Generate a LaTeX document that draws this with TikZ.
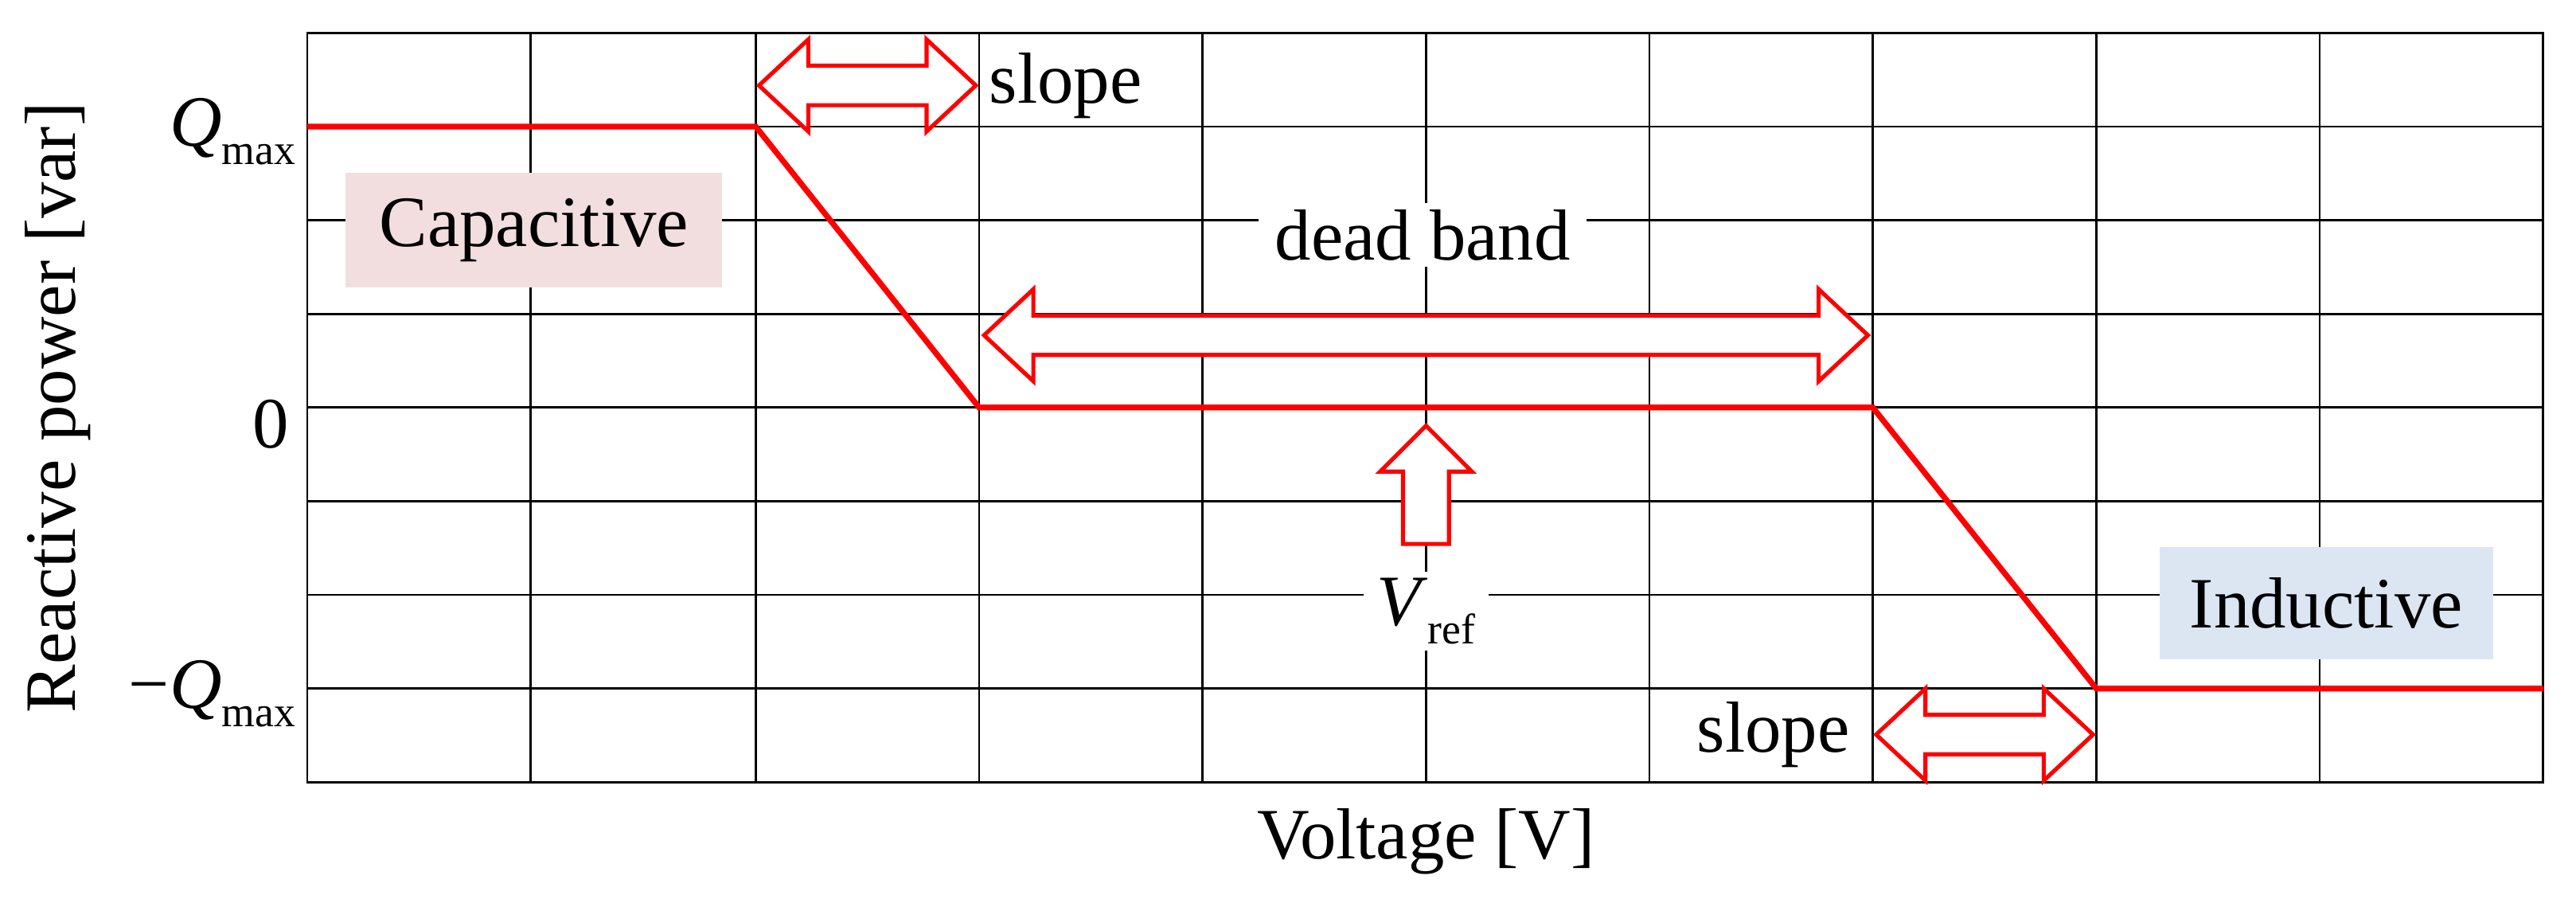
\documentclass[tikz,border=0pt]{standalone}
\usepackage{fontspec}
\setmainfont{Liberation Serif}
\definecolor{capc}{RGB}{242,222,222}
\definecolor{indc}{RGB}{220,230,242}
\newcommand{\sub}[1]{\raisebox{-0.25em}{\fontsize{26}{28}\selectfont #1}}
\begin{document}
\begin{tikzpicture}[x=1pt,y=-1pt,
  lbl/.style={font=\fontsize{44}{48}\selectfont, inner sep=4pt},
  blk/.style={draw=red, line width=2.5pt, fill=white, line join=miter},
  curve/.style={draw=red, line width=3.5pt},
  grid/.style={draw=black, line width=1.3pt}]
\useasboundingbox (0,0) rectangle (1568,547);
\fill[white] (0,0) rectangle (1568,547);
% grid
\foreach \x in {323,460,596,732,868,1004,1140,1276,1412} \draw[grid] (\x,20) -- (\x,476);
\foreach \y in {77,134,191,248,305,362,419} \draw[grid] (187,\y) -- (1548,\y);
\draw[grid] (187,20) rectangle (1548,476);
% curve
\coordinate (p0) at (187,77); \coordinate (p1) at (460,77);
\coordinate (p2) at (596,248); \coordinate (p3) at (1140,248);
\coordinate (p4) at (1276,419); \coordinate (p5) at (1548,419);
\draw[curve] (p0) -- (p1) -- (p2) -- (p3) -- (p4) -- (p5);
% horizontal double arrows
\newcommand{\dblarrow}[3]{%
  \draw[blk] (#1,#3) -- (#1+30,#3-28) -- (#1+30,#3-12) -- (#2-30,#3-12) -- (#2-30,#3-28)
   -- (#2,#3) -- (#2-30,#3+28) -- (#2-30,#3+12) -- (#1+30,#3+12) -- (#1+30,#3+28) -- cycle;}
\dblarrow{462}{594}{52}
\dblarrow{599}{1137}{204}
\dblarrow{1142}{1274}{447}
% up arrow
\draw[blk] (868,259) -- (896,287) -- (882,287) -- (882,331) -- (854,331) -- (854,287) -- (840,287) -- cycle;
% labels
\node[lbl, anchor=west] (s1) at (598,52) {slope};
\node[lbl, fill=white, inner xsep=10pt] (db) at (866,143) {dead band};
\node[lbl, fill=white, inner xsep=8pt] (vr) at (868,372) {\textit{V}\sub{ref}};
\node[lbl, fill=white, anchor=east] (s2) at (1130,447) {slope};
\node[lbl, fill=capc, minimum width=229pt, minimum height=70pt] (cap) at (325,140) {Capacitive};
\node[lbl, fill=indc, minimum width=203pt, minimum height=68pt] (ind) at (1416,367) {Inductive};
\node[lbl, anchor=east, inner sep=0pt] (qm) at (180,80) {\textit{Q}\sub{max}};
\node[lbl, anchor=east, inner sep=0pt] (q0) at (176,258) {0};
\node[lbl, anchor=east, inner sep=0pt] (qn) at (180,422) {\textminus\textit{Q}\sub{max}};
\node[lbl, rotate=90] (yl) at (35,248) {Reactive power [var]};
\node[lbl] (xl) at (868,512) {Voltage [V]};
\end{tikzpicture}
\end{document}
